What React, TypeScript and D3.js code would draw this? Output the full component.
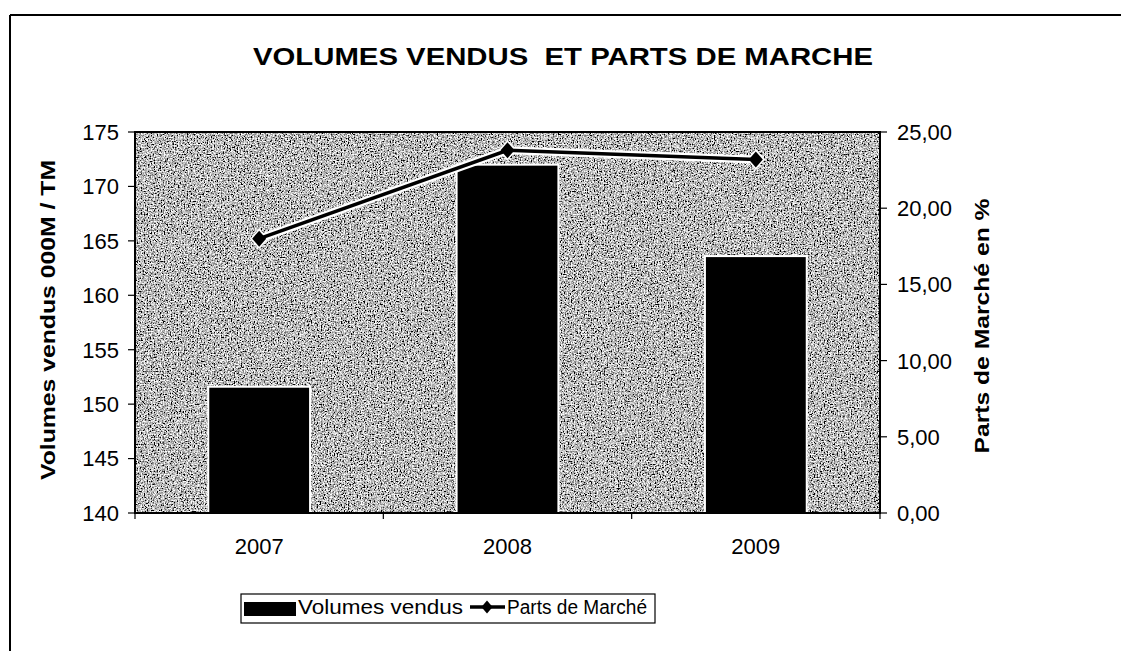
import * as d3 from "d3";

// chart data
const years = ["2007", "2008", "2009"];
const volumes = [151.6, 172.0, 163.6]; // Volumes vendus 000M / TM
const parts = [18.0, 23.8, 23.2]; // Parts de Marché en %
const leftTicks = [140, 145, 150, 155, 160, 165, 170, 175];
const rightTicks = [0, 5, 10, 15, 20, 25];

export default function App() {
  const width = 1121;
  const height = 651;
  const plotLeft = 135;
  const plotRight = 880;
  const plotTop = 132;
  const plotBottom = 513;

  const x = d3.scaleBand(years, [plotLeft, plotRight]).paddingInner(0.59).paddingOuter(0.295);
  const yL = d3.scaleLinear([140, 175], [plotBottom, plotTop]);
  const yR = d3.scaleLinear([0, 25], [plotBottom, plotTop]);
  const step = x.step();
  const fmt = (v: number) => v.toFixed(2).replace(".", ",");

  const pts = years.map((yr, i) => [x(yr)! + x.bandwidth() / 2, yR(parts[i])] as [number, number]);
  const line = d3.line();
  const diamond = "M0,-8L7,0L0,8L-7,0Z";
  const font = "'Liberation Sans', Arial, sans-serif";

  return (
    <svg width={width} height={height} style={{ position: "absolute", left: 0, top: 0, background: "#fff" }} fontFamily={font}>
      <defs>
        <filter id="grain" x="0" y="0" width="100%" height="100%">
          <feTurbulence type="fractalNoise" baseFrequency="0.7" numOctaves="2" seed="7" />
          <feColorMatrix type="saturate" values="0" />
          <feComponentTransfer>
            <feFuncR type="linear" slope="3.6" intercept="-1.3" />
            <feFuncG type="linear" slope="3.6" intercept="-1.3" />
            <feFuncB type="linear" slope="3.6" intercept="-1.3" />
            <feFuncA type="linear" slope="0" intercept="1" />
          </feComponentTransfer>
        </filter>
      </defs>

      {/* outer frame of the scanned page */}
      <line x1={10} x2={width} y1={15} y2={15} stroke="#000" strokeWidth={2} />
      <line x1={10} x2={10} y1={15} y2={height} stroke="#000" strokeWidth={2} />

      <text x={563} y={65} textAnchor="middle" fontSize={23} fontWeight="bold" textLength={620}
        lengthAdjust="spacingAndGlyphs" style={{ whiteSpace: "pre" }}>
        VOLUMES VENDUS  ET PARTS DE MARCHE
      </text>

      {/* plot area */}
      <rect x={plotLeft} y={plotTop} width={plotRight - plotLeft} height={plotBottom - plotTop} fill="#888" />
      <rect x={plotLeft} y={plotTop} width={plotRight - plotLeft} height={plotBottom - plotTop} filter="url(#grain)" />

      {years.map((yr, i) => (
        <rect key={yr} x={x(yr)} y={yL(volumes[i])} width={x.bandwidth()} height={plotBottom - yL(volumes[i])}
          fill="#000" stroke="#fff" strokeWidth={2} />
      ))}

      <path d={line(pts)!} fill="none" stroke="#fff" strokeWidth={8} />
      {pts.map((p, i) => (
        <path key={"h" + i} d={diamond} transform={`translate(${p[0]},${p[1]}) scale(1.3)`} fill="#fff" />
      ))}
      <path d={line(pts)!} fill="none" stroke="#000" strokeWidth={3.5} />
      {pts.map((p, i) => (
        <path key={"d" + i} d={diamond} transform={`translate(${p[0]},${p[1]})`} fill="#000" />
      ))}

      <rect x={plotLeft} y={plotTop} width={plotRight - plotLeft} height={plotBottom - plotTop} fill="none" stroke="#000" strokeWidth={2} />

      {/* left axis */}
      {leftTicks.map(t => (
        <g key={"l" + t}>
          <line x1={plotLeft - 7} x2={plotLeft} y1={yL(t)} y2={yL(t)} stroke="#000" strokeWidth={1.2} />
          <text x={119} y={yL(t)} dy="0.36em" textAnchor="end" fontSize={22}>{t}</text>
        </g>
      ))}
      <text transform={`translate(55,320) rotate(-90)`} textAnchor="middle" fontSize={21} fontWeight="bold"
        textLength={320} lengthAdjust="spacingAndGlyphs">Volumes vendus 000M / TM</text>

      {/* right axis */}
      {rightTicks.map(t => (
        <g key={"r" + t}>
          <line x1={plotRight} x2={plotRight + 7} y1={yR(t)} y2={yR(t)} stroke="#000" strokeWidth={1.2} />
          <text x={897} y={yR(t)} dy="0.36em" textAnchor="start" fontSize={22}>{fmt(t)}</text>
        </g>
      ))}
      <text transform={`translate(989,326) rotate(-90)`} textAnchor="middle" fontSize={21} fontWeight="bold"
        textLength={255} lengthAdjust="spacingAndGlyphs">Parts de Marché en %</text>

      {/* category axis */}
      {d3.range(years.length + 1).map(i => (
        <line key={"t" + i} x1={plotLeft + i * step} x2={plotLeft + i * step} y1={plotBottom} y2={plotBottom + 6}
          stroke="#000" strokeWidth={1.2} />
      ))}
      {years.map(yr => (
        <text key={"x" + yr} x={x(yr)! + x.bandwidth() / 2} y={554} textAnchor="middle" fontSize={22}>{yr}</text>
      ))}

      {/* legend */}
      <rect x={241} y={594} width={414} height={29} fill="#fff" stroke="#000" strokeWidth={1.2} />
      <rect x={244} y={602} width={52} height={14} fill="#000" />
      <text x={298} y={614} fontSize={20} textLength={165} lengthAdjust="spacingAndGlyphs">Volumes vendus</text>
      <line x1={470} x2={505} y1={607} y2={607} stroke="#000" strokeWidth={3.5} />
      <path d={diamond} transform="translate(487,607) scale(0.8)" fill="#000" />
      <text x={507} y={614} fontSize={20} textLength={140} lengthAdjust="spacingAndGlyphs">Parts de Marché</text>
    </svg>
  );
}
